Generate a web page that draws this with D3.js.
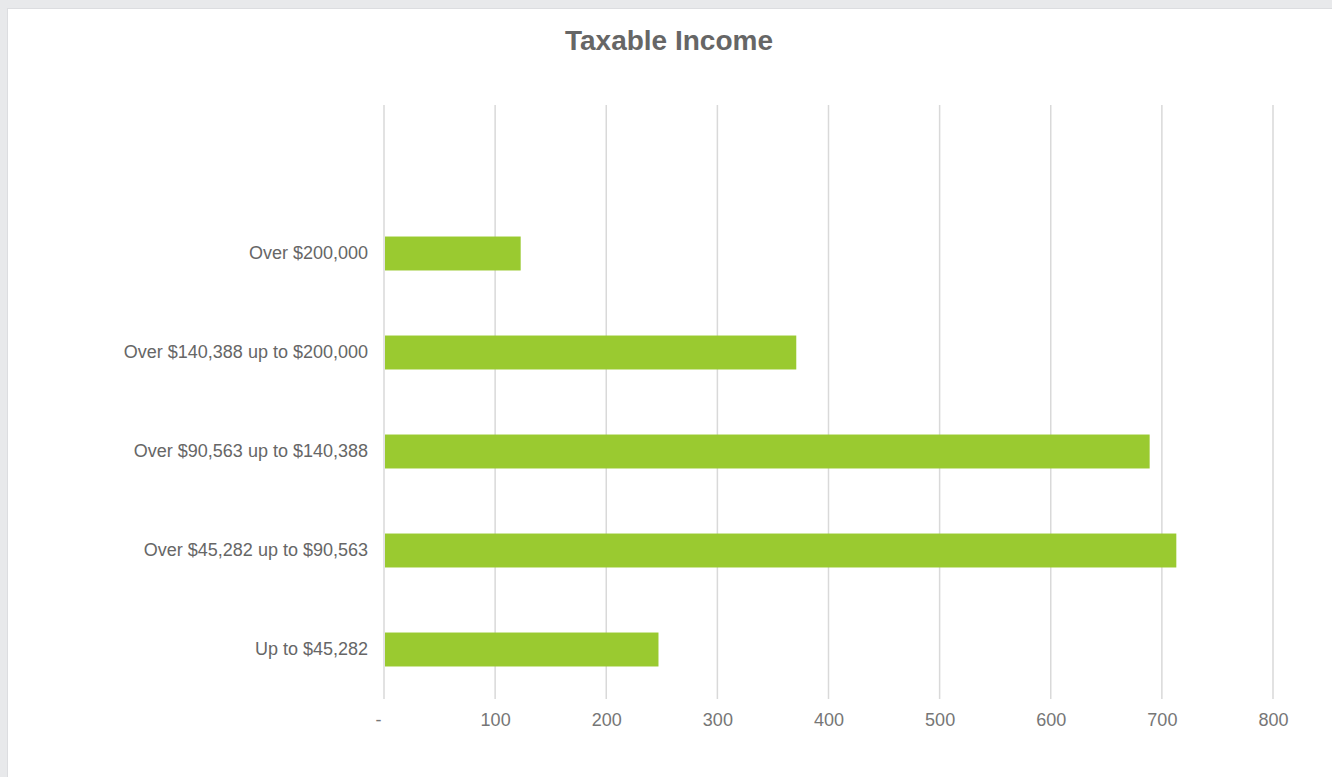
<!DOCTYPE html>
<html>
<head>
<meta charset="utf-8">
<script src="https://cdn.jsdelivr.net/npm/d3@7"></script>
<style>
  html, body { margin: 0; padding: 0; background: #e8e9eb; width: 1332px; height: 777px; overflow: hidden; }
  svg { display: block; }
</style>
</head>
<body>
<svg id="chart" width="1332" height="777"></svg>
<script>
const title = "Taxable Income";
const categories = ["Over $200,000", "Over $140,388 up to $200,000", "Over $90,563 up to $140,388", "Over $45,282 up to $90,563", "Up to $45,282"];
const values = [123, 371, 689, 713, 247];
const xTicks = [0, 100, 200, 300, 400, 500, 600, 700, 800];
const xTickLabels = ["-", "100", "200", "300", "400", "500", "600", "700", "800"];

const svg = d3.select("#chart");
// white panel
svg.append("rect").attr("x", 7).attr("y", 8).attr("width", 1332).attr("height", 777).attr("fill", "#dcdde0");
svg.append("rect").attr("x", 8).attr("y", 9).attr("width", 1332).attr("height", 777).attr("fill", "#ffffff");

const margin = { left: 384, right: 59, top: 105, bottom: 78 };
const x = d3.scaleLinear().domain([0, 800]).range([margin.left, 1332 - margin.right]);
const yDomain = [""].concat(categories);
const y = d3.scaleBand().domain(yDomain).range([margin.top, 777 - margin.bottom]).paddingInner(0.657).paddingOuter(0.3285);

// gridlines
svg.append("g").selectAll("line").data(xTicks).join("line")
  .attr("x1", d => x(d)).attr("x2", d => x(d))
  .attr("y1", margin.top).attr("y2", 777 - margin.bottom)
  .attr("stroke", "#d9d9d9").attr("stroke-width", 1.5);

// bars
svg.append("g").selectAll("rect").data(categories).join("rect")
  .attr("x", x(0) + 1)
  .attr("y", d => y(d))
  .attr("width", (d, i) => x(values[i]) - x(0) - 1)
  .attr("height", y.bandwidth())
  .attr("fill", "#9aca30");

// x axis labels
const xAxis = d3.axisBottom(x).tickValues(xTicks).tickFormat((d, i) => xTickLabels[i]).tickSize(0).tickPadding(0);
const gx = svg.append("g").attr("transform", `translate(0, ${777 - margin.bottom + 14})`).call(xAxis);
gx.select(".domain").remove();
gx.selectAll("text").attr("font-family", "Liberation Sans, Arial, sans-serif").attr("font-size", 18).attr("fill", "#767676");
gx.selectAll("text").filter((d, i) => i === 0).attr("dx", -6);

// y axis labels
const yAxis = d3.axisLeft(y).tickValues(categories).tickSize(0).tickPadding(16);
const gy = svg.append("g").attr("transform", `translate(${margin.left}, 0)`).call(yAxis);
gy.select(".domain").remove();
gy.selectAll("text").attr("font-family", "Liberation Sans, Arial, sans-serif").attr("font-size", 18).attr("fill", "#666666");

// title
svg.append("text").attr("x", 669).attr("y", 50).attr("text-anchor", "middle")
  .attr("font-family", "Liberation Sans, Arial, sans-serif").attr("font-size", 28).attr("font-weight", "bold")
  .attr("fill", "#666666").text(title);
</script>
</body>
</html>
